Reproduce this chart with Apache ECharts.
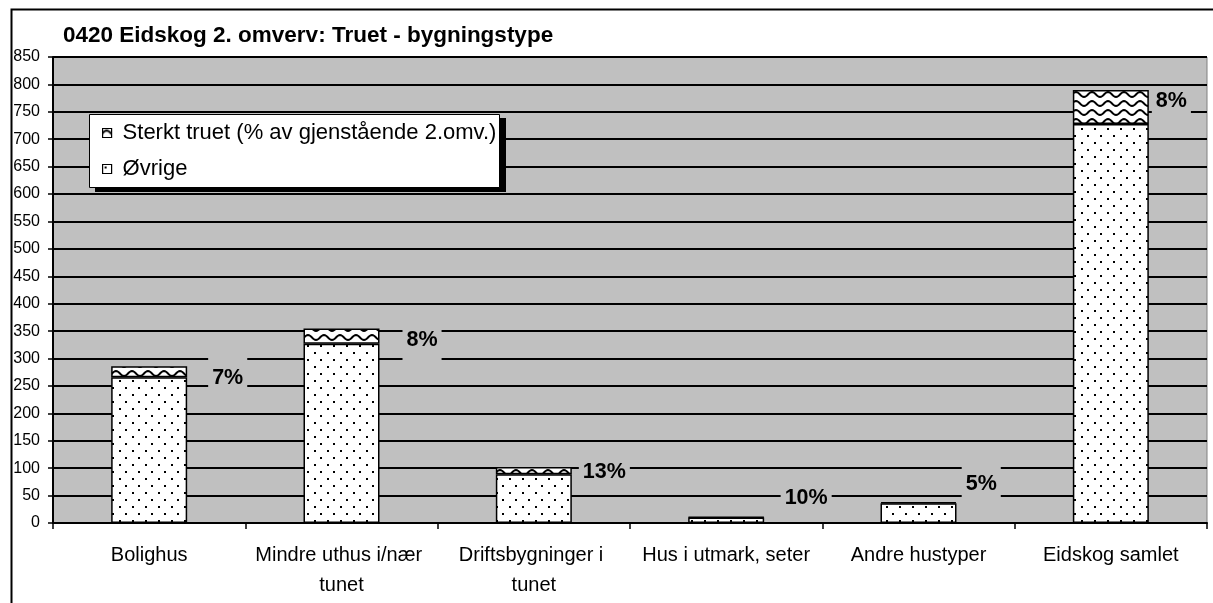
<!DOCTYPE html>
<html>
<head>
<meta charset="utf-8">
<script src="https://cdn.jsdelivr.net/npm/echarts@6/dist/echarts.min.js"></script>
<style>
  html, body { margin: 0; padding: 0; background: #fff; }
  #chart { width: 1213px; height: 603px; }
</style>
</head>
<body>
<div id="chart"></div>
<script>
const categories = [
    "Bolighus",
    "Mindre uthus i/nær tunet",
    "Driftsbygninger i tunet",
    "Hus i utmark, seter",
    "Andre hustyper",
    "Eidskog samlet"
];
const ovrige = [266, 327, 89, 10, 36, 728];
const sterktTruet = [20, 28, 13, 1, 2, 62];
const percentLabels = ["7%", "8%", "13%", "10%", "5%", "8%"];
const yTicks = { min: 0, max: 850, step: 50 };

// label nudges, the Excel labels sit a bit off the segment
const labelNudge = [[21, 6], [23, 4], [7, 1], [16, -19], [5, -19], [3, -6]];

const FONT = "'Liberation Sans', Arial, sans-serif";

function makeDots() {
    const c = document.createElement("canvas");
    c.width = 13;
    c.height = 14;
    const ctx = c.getContext("2d");
    ctx.fillStyle = "#fff";
    ctx.fillRect(0, 0, 13, 14);
    ctx.fillStyle = "#000";
    ctx.fillRect(2, 2, 2, 2);
    ctx.fillRect(8, 9, 2, 2);
    return c;
}

function makeWaves() {
    const c = document.createElement("canvas");
    c.width = 16;
    c.height = 9;
    const ctx = c.getContext("2d");
    ctx.fillStyle = "#fff";
    ctx.fillRect(0, 0, 16, 9);
    ctx.strokeStyle = "#000";
    ctx.lineWidth = 2;
    ctx.beginPath();
    for (let x = -1; x <= 17; x++) {
        const y = 4.5 - 2.5 * Math.sin((2 * Math.PI * x) / 16);
        if (x === -1) ctx.moveTo(x, y);
        else ctx.lineTo(x, y);
    }
    ctx.stroke();
    return c;
}

const chart = echarts.init(document.getElementById("chart"), null, { renderer: "canvas" });

const sterktData = sterktTruet.map((v, i) => {
    const item = {
        value: v,
        label: {
            formatter: percentLabels[i],
            offset: labelNudge[i]
        }
    };
    if (i === 5) item.label.padding = [2, 4];
    return item;
});

const option = {
    backgroundColor: "#fff",
    animation: false,
    title: {
        text: "0420 Eidskog 2. omverv: Truet - bygningstype",
        left: 63,
        top: 24,
        padding: 0,
        textStyle: { fontFamily: FONT, fontSize: 22.5, fontWeight: "bold", color: "#000" }
    },
    legend: {
        orient: "vertical",
        left: 89,
        top: 114,
        z: 20,
        padding: [7, 6, 6, 13],
        itemGap: 12,
        itemWidth: 9,
        itemHeight: 9,
        icon: "rect",
        itemStyle: { borderColor: "#000", borderWidth: 1.2 },
        data: ["Sterkt truet (% av gjenstående 2.omv.)", "Øvrige"],
        textStyle: {
            fontFamily: FONT,
            fontSize: 22,
            lineHeight: 24,
            padding: [0, 0, 0, 6],
            color: "#000"
        }
    },
    grid: {
        left: 53,
        right: 6,
        top: 57,
        bottom: 80,
        show: true,
        backgroundColor: "#c0c0c0",
        borderColor: "#808080",
        borderWidth: 1
    },
    xAxis: {
        type: "category",
        data: categories,
        axisLine: { lineStyle: { color: "#000", width: 2 } },
        axisTick: { show: true, length: 6, lineStyle: { color: "#000", width: 1.5 } },
        axisLabel: {
            interval: 0,
            margin: 17,
            width: 185,
            overflow: "break",
            fontFamily: FONT,
            fontSize: 20,
            lineHeight: 30,
            color: "#000"
        }
    },
    yAxis: {
        type: "value",
        min: yTicks.min,
        max: yTicks.max,
        interval: yTicks.step,
        axisLine: { show: true, lineStyle: { color: "#000", width: 2 } },
        axisTick: { show: true, length: 5, lineStyle: { color: "#000", width: 1.5 } },
        axisLabel: { margin: 13, fontFamily: FONT, fontSize: 16, color: "#000" },
        splitLine: { show: true, lineStyle: { color: "#000", width: 2 } }
    },
    series: [
        {
            name: "Øvrige",
            type: "bar",
            stack: "tot",
            barWidth: 76,
            data: ovrige,
            itemStyle: {
                color: { image: makeDots(), repeat: "repeat" },
                borderColor: "#000",
                borderWidth: 1.5
            }
        },
        {
            name: "Sterkt truet (% av gjenstående 2.omv.)",
            type: "bar",
            stack: "tot",
            barWidth: 76,
            data: sterktData,
            itemStyle: {
                color: { image: makeWaves(), repeat: "repeat" },
                borderColor: "#000",
                borderWidth: 1.5
            },
            label: {
                show: true,
                position: "right",
                distance: 0,
                backgroundColor: "#c0c0c0",
                padding: [10, 4],
                fontFamily: FONT,
                fontSize: 21.5,
                fontWeight: "bold",
                color: "#000"
            }
        }
    ],
    graphic: [
        // legend box with hard shadow
        {
            type: "rect",
            left: 95,
            top: 118,
            z: 10,
            shape: { width: 411, height: 74 },
            style: { fill: "#000" }
        },
        {
            type: "rect",
            left: 89,
            top: 114,
            z: 11,
            shape: { width: 410, height: 73 },
            style: { fill: "#fff", stroke: "#000", lineWidth: 1 }
        },
        {
            type: "rect",
            left: 9,
            top: 7,
            shape: { width: 1240, height: 640 },
            style: { fill: "none", stroke: "#000", lineWidth: 2 },
            z: 100
        }
    ]
};

chart.setOption(option);
</script>
</body>
</html>
